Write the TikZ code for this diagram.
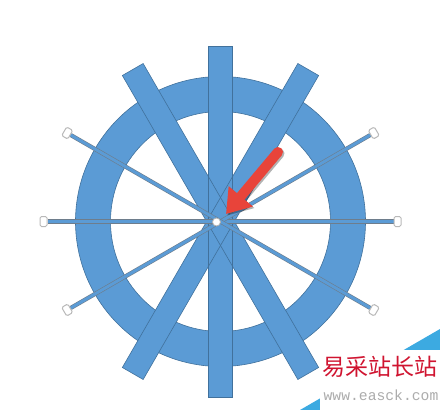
\documentclass[tikz,border=0pt]{standalone}
\usepackage{fontspec}
\newfontfamily\cjk{Noto Sans CJK SC}
\setmonofont{Liberation Mono}
\usetikzlibrary{arrows.meta}

\definecolor{wheelblue}{RGB}{91,155,213}
\definecolor{wheeledge}{RGB}{65,113,156}
\definecolor{spokeedge}{RGB}{110,125,140}
\definecolor{pointerred}{RGB}{232,68,58}
\definecolor{markblue}{RGB}{60,170,225}
\definecolor{markred}{RGB}{208,20,48}

\tikzset{
  rimline/.style={draw=wheeledge, line width=0.6pt},
  spoke/.style={draw=spokeedge, line width=0.6pt, double=wheelblue, double distance=3pt},
  handle/.style={draw=gray!55, fill=white, line width=1pt, rounded corners=1.5pt},
  hub/.style={circle, draw=gray!60, fill=white, line width=0.8pt, inner sep=0pt, minimum size=8pt},
  pointer/.style={pointerred, line width=10pt, line cap=round, -{Triangle[length=23pt, width=30pt]}},
  marktitle/.style={inner sep=0pt, text=markred, font=\fontsize{23pt}{23pt}\cjk},
  markurl/.style={inner sep=0pt, text=gray!65, font=\fontsize{14.7pt}{14.7pt}\ttfamily}
}

\begin{document}
\begin{tikzpicture}[x=1pt, y=-1pt]
      \useasboundingbox (0,0) rectangle (440,410);

      \begin{scope}[shift={(220.5,221.5)}]
        % rim
        \fill[wheelblue, even odd rule] (0,0) circle (145pt) (0,0) circle (110pt);
        \draw[rimline] (0,0) circle (145pt) (0,0) circle (110pt);

        % three crossed bars
        \foreach \a in {-30,30,0}
          \fill[wheelblue, rotate=\a] (-12,-175.5) rectangle (12,175.5);
        \foreach \a in {-30,30,0}
          \draw[rimline, rotate=\a] (-12,-175.5) rectangle (12,175.5);

        % spokes with their end handles
        \foreach \a in {0,30,150,180,210,330} {
          \draw[spoke, rotate=\a] (0,0) -- (173,0);
          \draw[handle, rotate=\a] (177,0) +(-3.5,-5) rectangle +(3.5,5);
        }
        \node[hub] (hub) at (-4,0.5) {};
      \end{scope}

      \coordinate (tail) at (278,152);
      \coordinate (tip) at (226,214);
      \draw[pointer, black, opacity=0.3, transform canvas={shift={(1.5pt,-1.5pt)}}] (tail) -- (tip);
      \draw[pointer] (tail) -- (tip);

      % watermark
      \fill[markblue] (300,410) -- (440,329) -- (440,350) -- (335,410) -- cycle;
      \fill[white] (320,350) rectangle (440,410);
      \node[marktitle] (sitename) at (380,367) {易采站长站};
      \node[markurl] (siteurl) at (381,395) {www.easck.com};

    \end{tikzpicture}
\end{document}
